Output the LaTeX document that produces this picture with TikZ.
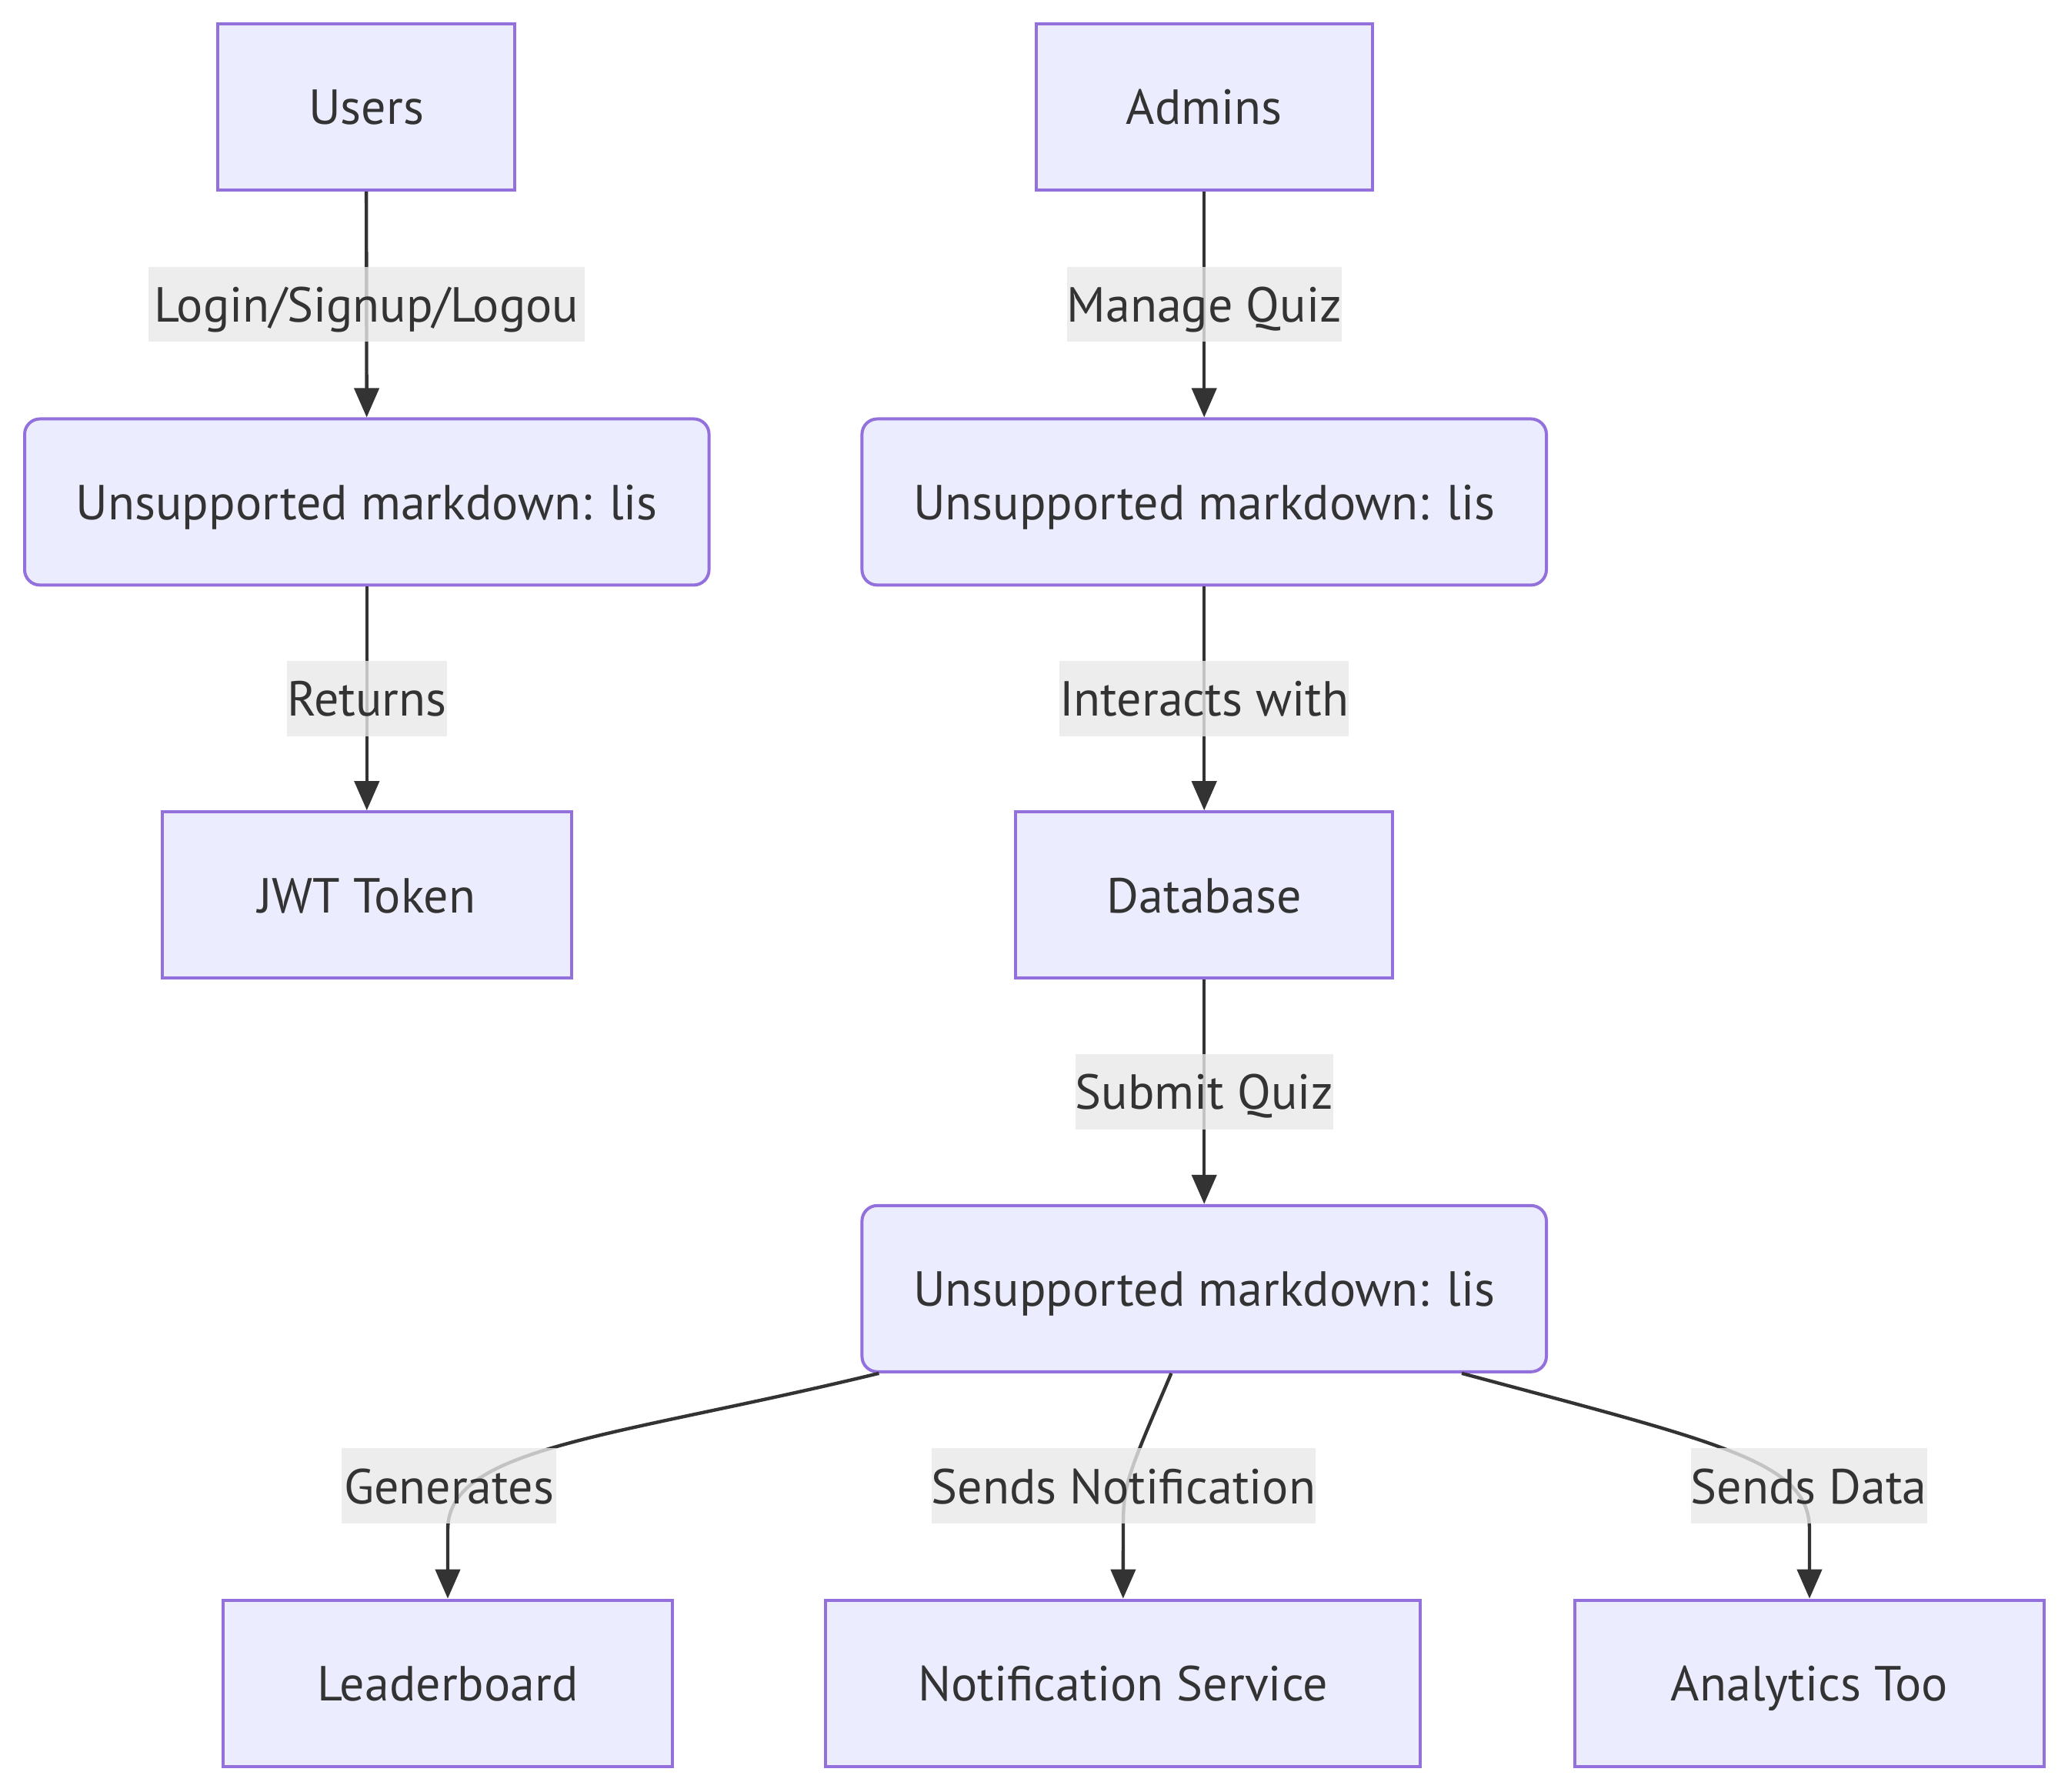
\documentclass[tikz,border=0pt]{standalone}
\usepackage{fontspec}
\setmainfont{PT Sans}
\usetikzlibrary{arrows.meta,positioning}

\definecolor{boxfill}{HTML}{ECECFF}
\definecolor{boxline}{HTML}{9370DB}
\definecolor{ink}{HTML}{333333}
\definecolor{labelgray}{HTML}{E8E8E8}

\tikzset{
  box/.style={draw=boxline,fill=boxfill,line width=1pt,inner sep=0pt,
    minimum height=54,text height=12.5,text depth=1.1,text=ink,
    font=\fontsize{16}{19}\selectfont},
  roundbox/.style={box,rounded corners=5,minimum width=222.4},
  edge/.style={draw=ink,line width=1.1pt,-{Triangle[length=9.5pt,width=8pt]}},
  edgelabel/.style={fill=labelgray,fill opacity=0.8,text opacity=1,text=ink,
    inner sep=0pt,minimum height=24.4,text height=12.5,text depth=1.1,
    font=\fontsize{16}{19}\selectfont}
}

\begin{document}
\begin{tikzpicture}[x=1pt,y=1pt]
\useasboundingbox (0,0) rectangle (672,-582);

% actors
\node[box,minimum width=96.4] (users) at (119,-34.7) {Users};
\node[box,minimum width=109.3] (admins) at (391.3,-34.7) {Admins};

% services
\node[roundbox] (auth) at (119.2,-163.1) {Unsupported markdown: lis};
\node[roundbox] (quiz) at (391.3,-163.1) {Unsupported markdown: lis};
\node[box,minimum width=132.9] (jwt) at (119.2,-290.8) {JWT Token};
\node[box,minimum width=122.6] (db) at (391.3,-290.8) {Database};
\node[roundbox] (submit) at (391.3,-418.7) {Unsupported markdown: lis};

% outputs
\node[box,minimum width=146.1] (leader) at (145.5,-546.9) {Leaderboard};
\node[box,minimum width=193.3] (notif) at (364.9,-546.9) {Notification Service};
\node[box,minimum width=152.6] (analytics) at (588,-546.9) {Analytics Too};

\draw[edge] (users) -- node[edgelabel,minimum width=141.9] {Login/Signup/Logou} (auth);
\draw[edge] (admins) -- node[edgelabel,minimum width=86.1] {Manage Quiz} (quiz);
\draw[edge] (auth) -- node[edgelabel,minimum width=50.6] {Returns} (jwt);
\draw[edge] (quiz) -- node[edgelabel,minimum width=93.4] {Interacts with} (db);
\draw[edge] (db) -- node[edgelabel,minimum width=81.9] {Submit Quiz} (submit);

\draw[edge] ([xshift=6]submit.south west) .. controls (200,-467) and (145.5,-470) .. (145.5,-497) -- (leader);
\draw[edge] ([xshift=-10.7]submit.south) .. controls (367,-478) and (365,-482) .. (365,-495) -- (notif);
\draw[edge] ([xshift=-28]submit.south east) .. controls (560,-469) and (588,-475) .. (588,-497) -- (analytics);

\node[edgelabel,minimum width=69.9] (lgen) at (145.9,-482.8) {Generates};
\node[edgelabel,minimum width=123.4] (lnotif) at (365.1,-482.8) {Sends Notification};
\node[edgelabel,minimum width=74.1] (ldata) at (587.8,-482.8) {Sends Data};
\end{tikzpicture}
\end{document}
